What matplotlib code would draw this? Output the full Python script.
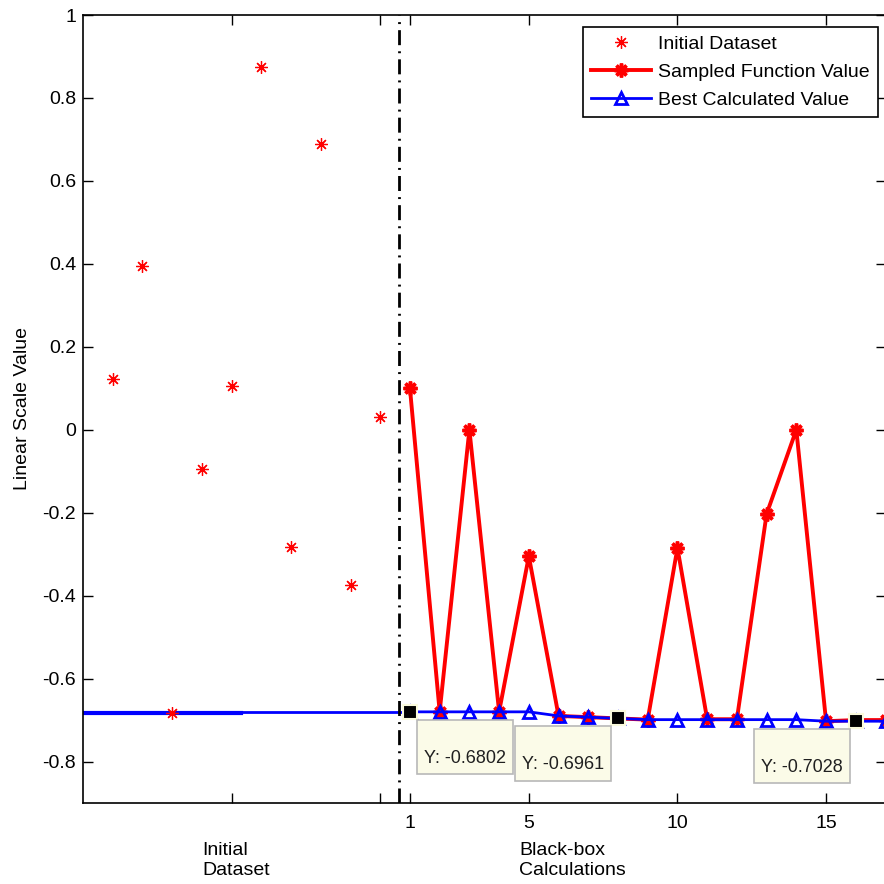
import numpy as np
import matplotlib.pyplot as plt

plt.rcParams['font.family'] = ['Liberation Sans', 'DejaVu Sans']

# initial dataset (before the black-box runs)
init_x = [-9, -8, -7, -6, -5, -4, -3, -2, -1, 0]
init_y = [0.122, 0.395, -0.682, -0.095, 0.105, 0.875, -0.283, 0.689, -0.375, 0.031]

# black-box calculations
calc_x = list(range(1, 18))
sampled_y = [0.1, -0.680, 0.0, -0.680, -0.305, -0.690, -0.693, -0.6961, -0.699,
             -0.285, -0.698, -0.698, -0.203, 0.0, -0.7028, -0.700, -0.700]
best_y = [-0.6802, -0.6802, -0.6802, -0.6802, -0.6802, -0.690, -0.693, -0.6961, -0.699,
          -0.699, -0.699, -0.699, -0.699, -0.699, -0.7028, -0.7028, -0.7028]

# best value carried over the initial region
init_best_x = [-10, 1]
init_best_y = [-0.6802, -0.6802]
init_min_x = [-10, -4.7]
init_min_y = [-0.6826, -0.6826]

split_x = 0.63

# data tips
tip_x = [1, 8, 16]
tip_y = [-0.6802, -0.6961, -0.7028]
tip_labels = ['Y: -0.6802', 'Y: -0.6961', 'Y: -0.7028']
tip_offsets = [(14, -15), (-96, -15), (-95, -15)]

y_ticks = [-0.8, -0.6, -0.4, -0.2, 0, 0.2, 0.4, 0.6, 0.8, 1]
y_ticklabels = ['-0.8', '-0.6', '-0.4', '-0.2', '0', '0.2', '0.4', '0.6', '0.8', '1']
x_ticks = [-5, 0, 1, 5, 10, 15]
x_ticklabels = ['', '', '1', '5', '10', '15']

W = 884
fig = plt.figure(figsize=(8.84, 8.84), dpi=100)
ax = fig.add_axes([83 / W, 81 / W, 802.5 / W, 788 / W])

asterisk = (8, 2, 0)

ax.plot(init_min_x, init_min_y, color='blue', lw=3)
ax.plot(init_best_x, init_best_y, color='blue', lw=2)

h1, = ax.plot(init_x, init_y, ls='none', marker=asterisk, color='red',
              markersize=9, markeredgewidth=0.9, label='Initial Dataset')
h2, = ax.plot(calc_x, sampled_y, color='red', lw=2.8, marker=asterisk,
              markersize=10, markeredgewidth=2.5, label='Sampled Function Value')
h3, = ax.plot(calc_x, best_y, color='blue', lw=2, marker='^', markersize=9,
              markerfacecolor='none', markeredgewidth=2, label='Best Calculated Value')

ax.axvline(split_x, color='black', lw=2, ls=(0, (5.4, 2.2, 0.7, 2.2)))

ax.plot(tip_x, tip_y, ls='none', marker='s', markersize=10.5, color='black',
        markeredgecolor='#fafadc', markeredgewidth=1.5, zorder=5)
for x, y, lab, off in zip(tip_x, tip_y, tip_labels, tip_offsets):
    ax.annotate(' \n' + lab, xy=(x, y), xycoords='data', xytext=off,
                textcoords='offset pixels', ha='left', va='top', fontsize=13,
                color='#202020', linespacing=1.45, zorder=6,
                bbox=dict(boxstyle='square,pad=0.4', facecolor='#fbfbe8',
                          edgecolor='#b8b8b8', lw=1.2))

ax.set_xlim(-10, 17)
ax.set_ylim(-0.9, 1)
ax.set_yticks(y_ticks)
ax.set_yticklabels(y_ticklabels)
ax.set_xticks(x_ticks)
ax.set_xticklabels(x_ticklabels)
ax.tick_params(direction='in', top=True, right=True, length=7, width=1,
               labelsize=14, colors='black')
ax.tick_params(axis='x', pad=9)
ax.tick_params(axis='y', pad=5)
for s in ax.spines.values():
    s.set_linewidth(1.2)

ax.set_ylabel('Linear Scale Value', fontsize=14, labelpad=8)

trans = ax.get_xaxis_transform()
ax.text(-6, -0.05, 'Initial\nDataset', transform=trans, ha='left', va='top',
        fontsize=14, linespacing=1.2)
ax.text(4.68, -0.05, 'Black-box\nCalculations', transform=trans, ha='left', va='top',
        fontsize=14, linespacing=1.2)

leg = ax.legend(handles=[h1, h2, h3], loc='upper right',
                bbox_to_anchor=(878 / W, 1 - 27 / W), bbox_transform=fig.transFigure,
                fontsize=14, fancybox=False, framealpha=1, edgecolor='black',
                handlelength=3.1, handletextpad=0.35, labelspacing=0.54,
                borderpad=0.42, borderaxespad=0, numpoints=1)
leg.get_frame().set_linewidth(1.2)

fig.savefig('out.png', dpi=100)
